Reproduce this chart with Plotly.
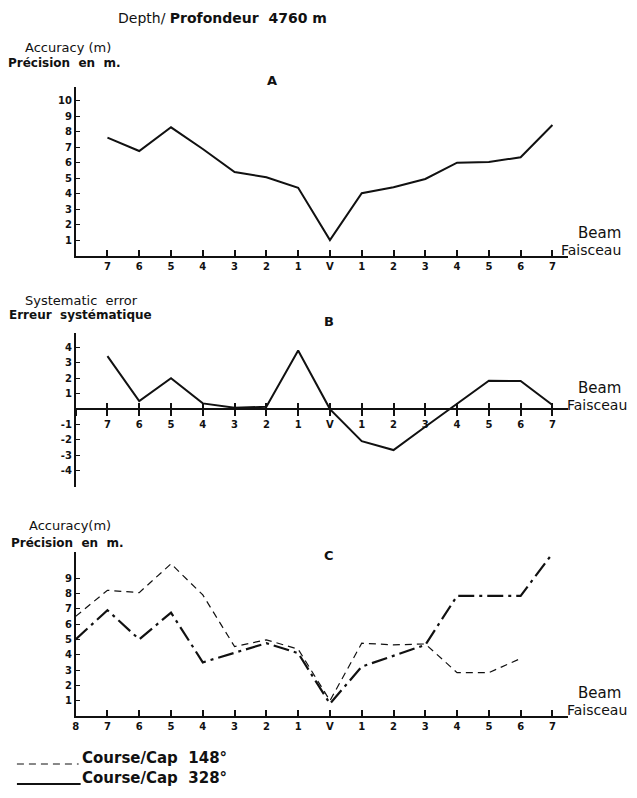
import plotly.graph_objects as go

W, H = 637, 798

# ---- data ----
beam_pos = list(range(16))
beam_labels_C = ["8", "7", "6", "5", "4", "3", "2", "1", "V", "1", "2", "3", "4", "5", "6", "7"]
beam_labels_AB = [""] + beam_labels_C[1:]

accuracy_A = [None, 7.63, 6.77, 8.3, 6.9, 5.42, 5.08, 4.4, 1.03, 4.05, 4.43, 4.97, 6.02, 6.06, 6.37, 8.45]
syst_error_B = [None, 3.44, 0.52, 2.0, 0.37, 0.08, 0.15, 3.8, 0.0, -2.08, -2.66, -1.15, 0.37, 1.84, 1.82, 0.26]
course_148 = [6.5, 8.2, 8.05, 9.93, 7.9, 4.53, 4.97, 4.36, 1.0, 4.75, 4.64, 4.7, 2.83, 2.83, 3.75, None]
course_328 = [5.0, 6.9, 5.0, 6.75, 3.5, 4.1, 4.75, 4.1, 0.8, 3.22, 3.95, 4.64, 7.84, 7.84, 7.84, 10.6]

yticks_A = [1, 2, 3, 4, 5, 6, 7, 8, 9, 10]
yticks_B = [-4, -3, -2, -1, 1, 2, 3, 4]
yticks_C = [1, 2, 3, 4, 5, 6, 7, 8, 9]

FONT = "DejaVu Sans"
BLACK = "#111111"


def px(x):
    return x / W


def py(y):
    return 1 - y / H


def b(labels):
    return ["<b>%s</b>" % s if s != "" else "" for s in labels]


xdom = [px(73), px(568)]
xrange_ = [0, 15.5]

fig = go.Figure()

fig.add_trace(go.Scatter(x=beam_pos, y=accuracy_A, mode="lines", xaxis="x", yaxis="y",
                         line=dict(color=BLACK, width=2), connectgaps=False, showlegend=False))
fig.add_trace(go.Scatter(x=beam_pos, y=syst_error_B, mode="lines", xaxis="x2", yaxis="y2",
                         line=dict(color=BLACK, width=2), showlegend=False))
fig.add_trace(go.Scatter(x=beam_pos, y=course_148, mode="lines", xaxis="x3", yaxis="y3",
                         line=dict(color=BLACK, width=1.2, dash="7px,5px"), showlegend=False))
fig.add_trace(go.Scatter(x=beam_pos, y=course_328, mode="lines", xaxis="x3", yaxis="y3",
                         line=dict(color=BLACK, width=2.2, dash="16px,5px,3px,5px"), showlegend=False))

tickfont = dict(family=FONT, size=10, color=BLACK)
common_x = dict(domain=xdom, range=xrange_, showline=True, linecolor=BLACK, linewidth=1.5,
                showgrid=False, zeroline=False, tickmode="array", tickvals=beam_pos,
                ticks="inside", ticklen=6, tickcolor=BLACK, tickwidth=1.5, tickfont=tickfont)
common_y = dict(showline=True, linecolor=BLACK, linewidth=1.5, showgrid=False, zeroline=False,
                tickmode="array", ticks="inside", ticklen=5, tickcolor=BLACK, tickwidth=1,
                tickfont=tickfont)

# Panel A
yA = [py(256), py(87)]
fig.update_layout(
    xaxis=dict(common_x, anchor="y", ticktext=b(beam_labels_AB)),
    yaxis=dict(common_y, domain=yA, range=[0, 10.9], anchor="x", tickvals=yticks_A,
               ticktext=b([str(v) for v in yticks_A])),
)

# Panel B
yB = [py(487), py(333)]
zero_B = py(409)
fig.update_layout(
    xaxis2=dict(common_x, anchor="free", position=zero_B, ticktext=b(beam_labels_AB),
                ticks="outside", ticklen=6),
    xaxis4=dict(common_x, anchor="free", position=zero_B, overlaying="x2",
                ticktext=["" for _ in beam_pos], ticks="inside", ticklen=6, showline=False),
    yaxis2=dict(common_y, domain=yB, range=[-5.06, 4.94], anchor="x2", tickvals=yticks_B,
                ticktext=b(["-4", "-3", "-2", "-1", "1", "2", "3", "4"])),
)

# Panel C
yC = [py(716), py(552)]
fig.update_layout(
    xaxis3=dict(common_x, anchor="y3", ticktext=b(beam_labels_C)),
    yaxis3=dict(common_y, domain=yC, range=[0, 10.7], anchor="x3", tickvals=yticks_C,
                ticktext=b([str(v) for v in yticks_C])),
)

# dummy trace for overlay axis x4 so it renders
fig.add_trace(go.Scatter(x=[None], y=[None], xaxis="x4", yaxis="y2", showlegend=False,
                         hoverinfo="skip"))

ann = []


def text(x, y, s, size=13, anchor="left", bold=False):
    ann.append(dict(x=px(x), y=py(y), xref="paper", yref="paper", text=("<b>%s</b>" % s) if bold else s,
                    showarrow=False, xanchor=anchor, yanchor="middle",
                    font=dict(family=FONT, size=size, color=BLACK)))


text(221, 18, "Depth/ <b>Profondeur  4760 m</b>", size=14, anchor="center")
text(20, 47, "Accuracy (m)", size=13)
text(3, 63, "<b>Précision  en  m.</b>", size=12)
text(270, 80, "A", size=13, anchor="center", bold=True)
text(576, 233, "Beam", size=15)
text(559, 250, "Faisceau", size=14)

text(20, 300, "Systematic  error", size=13)
text(4, 315, "<b>Erreur  systématique</b>", size=12)
text(328, 322, "B", size=13, anchor="center", bold=True)
text(576, 388, "Beam", size=15)
text(565, 405, "Faisceau", size=14)

text(24, 525, "Accuracy(m)", size=13)
text(6, 543, "<b>Précision  en  m.</b>", size=12)
text(328, 555, "C", size=13, anchor="center", bold=True)
text(576, 693, "Beam", size=15)
text(565, 710, "Faisceau", size=14)

text(77, 758, "<b>Course/Cap  148°</b>", size=15)
text(77, 778, "<b>Course/Cap  328°</b>", size=15)

shapes = [
    dict(type="line", xref="paper", yref="paper", x0=px(14), x1=px(76), y0=py(764), y1=py(764),
         line=dict(color=BLACK, width=1, dash="7px,5px")),
    dict(type="line", xref="paper", yref="paper", x0=px(14), x1=px(78), y0=py(784), y1=py(784),
         line=dict(color=BLACK, width=2)),
]

fig.update_layout(width=W, height=H, margin=dict(l=0, r=0, t=0, b=0),
                  paper_bgcolor="white", plot_bgcolor="white",
                  annotations=ann, shapes=shapes, showlegend=False)

fig.write_html("out.html")
